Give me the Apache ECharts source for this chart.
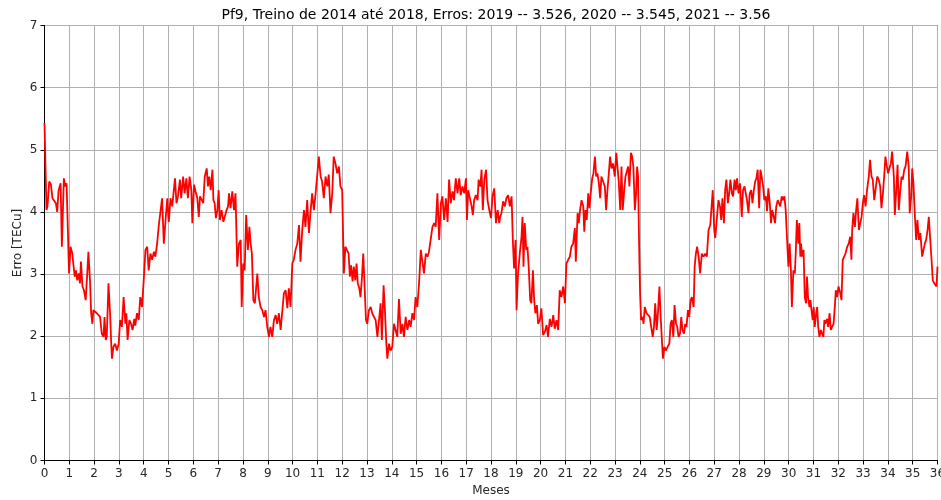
<html>
<head>
    <meta charset="utf-8">
    <title>Pf9 - Erros</title>
    <script src="https://cdn.jsdelivr.net/npm/echarts@6/dist/echarts.min.js"></script>
</head>
<body style="margin:0">
<div id="chart" style="width: 941px; height: 500px;"></div>
<script type="text/javascript">
    // meses e erro [TECu], um bloco por ano
    var meses2019 = [
        0.00,0.08,0.12,0.19,0.26,0.32,0.38,0.46,0.51,0.57,
        0.65,0.70,0.78,0.84,0.89,0.96,0.99,1.05,1.12,1.16,
        1.22,1.27,1.32,1.38,1.43,1.47,1.53,1.59,1.66,1.73,
        1.77,1.84,1.88,1.93,1.97,2.04,2.11,2.18,2.24,2.31,
        2.38,2.42,2.47,2.51,2.58,2.65,2.69,2.72,2.78,2.85,
        2.92,2.99,3.05,3.12,3.19,3.26,3.30,3.35,3.42,3.49,
        3.55,3.62,3.66,3.73,3.80,3.86,3.93,4.00,4.07,4.14,
        4.20,4.27,4.34,4.41,4.47,4.54,4.61,4.68,4.74,4.81,
        4.88,4.95,5.01,5.08,5.15,5.26,5.32,5.38,5.46,5.51,
        5.59,5.65,5.72,5.78,5.85,5.92,5.96,6.03,6.09,6.16,
        6.22,6.27,
        6.34,6.40,6.46,6.54,6.59,6.64,6.70,6.77,6.81,6.86,
        6.91,6.97,7.02,7.07,7.14,7.21,7.28,7.34,7.40,7.44,
        7.50,7.57,7.64,7.70,7.77,7.84,7.91,7.95,8.01,8.07,
        8.13,8.20,8.26,8.31,8.36,8.42,8.48,8.58,8.64,8.71,
        8.78,8.85,8.91,8.98,9.05,9.11,9.18,9.25,9.32,9.38,
        9.45,9.52,9.58,9.65,9.72,9.79,9.85,9.92,9.99,10.05,
        10.12,10.19,10.26,10.32,10.39,10.46,10.52,10.59,10.66,10.72,
        10.79,10.86,10.93,10.99,11.06,11.13,11.19,11.26,11.33,11.40,
        11.46,11.53,11.60,11.66,11.73,11.80,11.87,11.93,12.00,12.07,
        12.13,12.20,12.26,12.31
    ];
    var erro2019 = [
        5.43,4.03,4.09,4.49,4.44,4.22,4.19,4.14,4.00,4.35,
        4.46,3.44,4.54,4.41,4.46,3.44,3.01,3.44,3.33,3.17,
        2.96,3.06,2.90,3.01,2.85,3.20,2.80,2.74,2.58,3.06,
        3.36,2.85,2.37,2.20,2.42,2.45,2.37,2.40,2.31,2.04,
        1.99,2.31,1.94,1.99,2.85,2.31,1.88,1.64,1.83,1.88,
        1.77,1.88,2.26,2.15,2.63,2.20,2.37,1.94,2.26,2.20,
        2.10,2.28,2.17,2.37,2.26,2.63,2.47,2.90,3.39,3.44,
        3.06,3.33,3.23,3.36,3.28,3.49,3.79,3.76,4.22,3.49,
        3.87,4.22,3.84,4.22,4.09,4.54,4.14,4.25,4.52,4.22,
        4.57,4.30,4.54,4.22,4.57,4.35,3.82,4.44,4.33,4.22,
        3.92,4.25,
        4.22,4.14,4.57,4.70,4.41,4.57,4.35,4.68,4.19,4.14,
        3.90,4.03,4.35,3.87,4.03,3.84,3.82,4.03,4.09,4.30,
        4.06,4.33,4.03,4.30,3.12,3.49,3.55,2.47,3.17,3.06,
        3.95,3.39,3.76,3.49,3.33,2.58,2.53,3.01,2.63,2.47,
        2.42,2.31,2.42,2.15,1.99,2.15,1.99,2.26,2.34,2.20,
        2.37,2.10,2.10,2.69,2.74,2.45,2.77,2.47,3.17,3.23,
        3.39,3.49,3.79,3.20,3.71,4.03,3.76,4.19,3.66,3.98,
        4.30,4.03,4.30,4.57,4.89,4.57,4.49,4.22,4.57,4.41,
        4.60,3.98,4.30,4.89,4.78,4.62,4.73,4.41,4.35,3.01,
        3.44,3.47,3.33,2.96
    ];
    var meses2020 = [
        12.36,12.42,12.47,12.53,12.58,12.63,12.69,12.74,12.80,12.85,
        12.90,12.96,13.01,13.08,13.15,13.21,13.28,13.35,13.42,13.48,
        13.55,13.60,13.67,13.73,13.78,13.82,13.89,13.95,14.02,14.09,
        14.16,14.22,14.29,14.36,14.43,14.49,14.56,14.63,14.70,14.76,
        14.83,14.90,14.96,15.03,15.10,15.17,15.23,15.30,15.37,15.44,
        15.50,15.57,15.64,15.71,15.77,15.84,15.91,15.98,16.04,16.11,
        16.18,16.25,16.31,16.38,16.45,16.51,16.58,16.65,16.72,16.78,
        16.85,16.92,16.99,17.03,17.08,17.16,17.22,17.27,17.32,17.39,
        17.46,17.50,17.57,17.62,17.67,17.73,17.80,17.86,17.93,18.00,
        18.06,18.13,18.20,18.27,18.33,18.37,
        18.42,18.49,18.56,18.62,18.69,18.76,18.83,18.88,18.93,18.99,
        19.03,19.09,19.16,19.23,19.27,19.31,19.36,19.42,19.47,19.52,
        19.58,19.63,19.69,19.74,19.79,19.85,19.90,19.97,20.03,20.10,
        20.17,20.24,20.30,20.37,20.44,20.51,20.57,20.64,20.71,20.77,
        20.84,20.91,20.98,21.04,21.11,21.18,21.24,21.31,21.38,21.42,
        21.49,21.54,21.59,21.65,21.72,21.76,21.81,21.86,21.92,21.97,
        22.02,22.08,22.13,22.19,22.24,22.29,22.35,22.40,22.45,22.52,
        22.59,22.64,22.70,22.75,22.80,22.86,22.92,22.99,23.05,23.10,
        23.15,23.21,23.26,23.31,23.37,23.42,23.48,23.53,23.58,23.64,
        23.69,23.74,23.80,23.85,23.89,23.93,23.97,24.01,24.05,24.11,
        24.15,24.20,24.27,24.34,24.40,24.44
    ];
    var erro2020 = [
        3.14,2.88,3.12,2.90,3.17,2.85,2.77,2.63,2.96,3.33,
        2.85,2.26,2.20,2.42,2.47,2.37,2.37,2.26,1.99,1.99,
        2.53,1.94,2.82,2.37,1.88,1.64,1.88,1.77,1.83,2.20,
        2.20,1.99,2.60,2.04,2.20,1.99,2.31,2.10,2.26,2.15,
        2.37,2.26,2.63,2.47,2.85,3.39,3.41,3.01,3.33,3.28,
        3.36,3.33,3.76,3.82,3.76,4.30,3.55,4.14,4.25,3.87,
        4.22,3.84,4.52,4.14,4.33,4.19,4.54,4.30,4.54,4.27,
        4.41,4.30,4.54,3.87,4.35,4.33,4.09,3.95,4.19,4.27,
        4.19,4.52,4.41,4.68,4.03,4.52,4.68,4.19,4.03,3.90,
        4.25,4.38,3.82,4.03,3.82,3.92,
        3.98,4.17,4.09,4.22,4.27,4.09,4.25,3.55,3.09,3.55,
        2.42,3.01,3.33,3.60,3.92,3.12,3.82,3.39,3.44,3.12,
        2.58,2.53,3.06,2.58,2.37,2.50,2.20,2.26,2.45,2.02,
        2.07,2.18,1.99,2.28,2.15,2.34,2.12,2.26,2.10,2.74,
        2.63,2.80,2.53,3.17,3.23,3.28,3.44,3.49,3.74,3.20,
        3.98,3.82,4.03,4.19,4.09,3.68,4.03,3.87,4.30,4.06,
        4.30,4.54,4.62,4.89,4.57,4.62,4.46,4.22,4.57,4.60,
        4.41,4.03,4.38,4.62,4.89,4.70,4.78,4.57,4.95,4.95,
        4.49,4.03,4.73,4.03,4.35,4.57,4.60,4.73,4.41,4.95,
        4.89,4.73,4.03,4.30,4.73,4.57,3.49,2.69,2.26,2.31,
        2.20,2.47,2.37,2.39,2.31,2.20
    ];
    var meses2021 = [
        24.52,24.57,24.62,24.68,24.73,24.79,24.84,24.89,24.93,24.99,
        25.05,25.12,25.19,25.24,25.29,25.35,25.40,25.46,25.51,25.56,
        25.62,25.67,25.72,25.78,25.83,25.88,25.94,25.99,26.05,26.10,
        26.17,26.21,26.26,26.31,26.37,26.43,26.50,26.57,26.64,26.70,
        26.77,26.84,26.90,26.94,27.00,27.04,27.10,27.17,27.23,27.28,
        27.33,27.39,27.44,27.49,27.55,27.60,27.65,27.71,27.76,27.82,
        27.87,27.92,27.98,28.04,28.11,28.16,28.22,28.27,28.32,28.38,
        28.43,28.49,28.54,28.59,28.65,28.70,28.75,28.81,28.86,28.91,
        28.97,29.02,29.08,29.13,29.18,29.24,29.29,29.34,29.40,29.45,
        29.50,29.56,29.61,29.66,29.72,29.77,29.83,29.88,29.93,29.99,
        30.04,30.09,30.13,30.19,30.25,30.29,30.33,30.39,30.43,30.47,
        30.50,
        30.54,30.60,30.65,30.70,30.74,30.78,30.84,30.88,30.92,30.97,
        31.01,31.05,31.11,31.15,31.19,31.24,31.30,31.35,31.40,31.44,
        31.48,31.55,31.59,31.65,31.70,31.75,31.81,31.86,31.90,31.95,
        32.01,32.08,32.13,32.18,32.24,32.29,32.36,32.42,32.48,32.53,
        32.56,32.61,32.67,32.72,32.77,32.83,32.88,32.94,32.99,33.04,
        33.10,33.16,33.23,33.28,33.34,33.39,33.45,33.50,33.57,33.63,
        33.69,33.74,33.80,33.85,33.90,33.96,34.01,34.06,34.12,34.17,
        34.24,34.28,34.33,34.39,34.44,34.49,34.55,34.60,34.66,34.71,
        34.78,34.84,34.88,34.94,34.98,35.03,35.09,35.14,35.19,35.25,
        35.31,35.38,35.44,35.49,35.54,35.60,35.65,35.70,35.76,35.81,
        35.87,35.92,35.96,36.00
    ];
    var erro2021 = [
        1.99,2.15,2.53,2.10,2.37,2.80,2.31,1.94,1.64,1.83,
        1.77,1.83,1.88,2.20,2.26,1.99,2.50,2.20,2.15,1.99,
        2.04,2.31,2.10,2.04,2.20,2.15,2.42,2.31,2.58,2.63,
        2.47,3.12,3.33,3.44,3.28,3.01,3.33,3.28,3.33,3.28,
        3.71,3.79,3.76,4.35,3.71,3.58,3.87,4.19,4.09,3.87,
        4.22,3.82,4.35,4.52,4.14,4.30,4.52,4.30,4.25,4.52,
        4.35,4.54,4.30,4.46,3.92,4.35,4.41,4.30,4.19,3.98,
        4.30,4.35,4.14,4.33,4.49,4.54,4.68,4.06,4.68,4.57,
        4.41,4.19,4.25,4.01,4.38,4.14,3.82,4.03,3.92,3.82,
        4.09,4.19,4.14,4.09,4.25,4.19,4.25,4.03,3.60,3.12,
        3.49,3.06,2.47,3.06,3.01,3.39,3.87,3.49,3.82,3.28,
        3.49,
        3.28,3.39,2.63,2.53,2.96,2.63,2.47,2.58,2.42,2.26,
        2.47,2.15,2.37,2.47,2.15,1.99,2.10,2.04,1.99,2.26,
        2.20,2.28,2.15,2.37,2.10,2.15,2.20,2.47,2.74,2.63,
        2.80,2.69,2.58,3.23,3.25,3.33,3.44,3.49,3.60,3.23,
        3.71,3.98,3.76,4.03,4.22,3.71,3.68,3.92,4.14,4.27,
        4.09,4.35,4.57,4.84,4.57,4.52,4.19,4.35,4.57,4.52,
        4.41,4.06,4.30,4.57,4.89,4.73,4.62,4.70,4.78,4.97,
        4.57,3.95,4.30,4.76,4.03,4.30,4.57,4.52,4.68,4.73,
        4.97,4.73,3.98,4.25,4.70,4.46,3.92,3.55,3.87,3.55,
        3.66,3.28,3.25,3.49,3.55,3.71,3.92,3.60,3.23,2.90,
        2.85,2.88,2.80,3.12
    ];

    var chart = echarts.init(document.getElementById('chart'));
    var meses = meses2019.concat(meses2020, meses2021);
    var valores = erro2019.concat(erro2020, erro2021);
    var data = [];
    for (var i = 0; i < meses.length; i++) {
        data.push([meses[i], valores[i]]);
    }

    var fonte = '"DejaVu Sans", sans-serif';
    var eixoTexto = { color: '#262626', fontFamily: fonte, fontSize: 12 };

    var option = {
        animation: false,
        title: {
            text: 'Pf9, Treino de 2014 até 2018, Erros: 2019 -- 3.526, 2020 -- 3.545, 2021 -- 3.56',
            left: 491,
            textAlign: 'center',
            top: 3,
            textStyle: { color: '#000', fontFamily: fonte, fontSize: 14, fontWeight: 'normal' }
        },
        grid: {
            left: 44.5, right: 3.5, top: 25.5, bottom: 39.5,
            outerBoundsMode: 'none',
            containLabel: false,
            show: true, borderColor: '#000', borderWidth: 1
        },
        xAxis: {
            type: 'value', min: 0, max: 36, interval: 1,
            name: 'Meses', nameLocation: 'middle', nameGap: 24,
            nameMoveOverlap: false,
            nameTextStyle: eixoTexto,
            axisLine: { show: true, onZero: false, lineStyle: { color: '#000' } },
            axisTick: { show: true, inside: false, length: 4, lineStyle: { color: '#000' } },
            axisLabel: { margin: 7, color: '#262626', fontFamily: fonte, fontSize: 12 },
            splitLine: { show: true, lineStyle: { color: '#b0b0b0', width: 1 } }
        },
        yAxis: {
            type: 'value', min: 0, max: 7, interval: 1,
            name: 'Erro [TECu]', nameLocation: 'middle', nameGap: 21,
            nameMoveOverlap: false,
            nameTextStyle: eixoTexto,
            axisLine: { show: true, lineStyle: { color: '#000' } },
            axisTick: { show: true, inside: false, length: 4, lineStyle: { color: '#000' } },
            axisLabel: { margin: 7, color: '#262626', fontFamily: fonte, fontSize: 12 },
            splitLine: { show: true, lineStyle: { color: '#b0b0b0', width: 1 } }
        },
        series: [{
            name: 'Erro',
            type: 'line',
            data: data,
            showSymbol: false,
            lineStyle: { color: '#ff0000', width: 1.8 },
            itemStyle: { color: '#ff0000' }
        }]
    };

    chart.setOption(option);
</script>
</body>
</html>
